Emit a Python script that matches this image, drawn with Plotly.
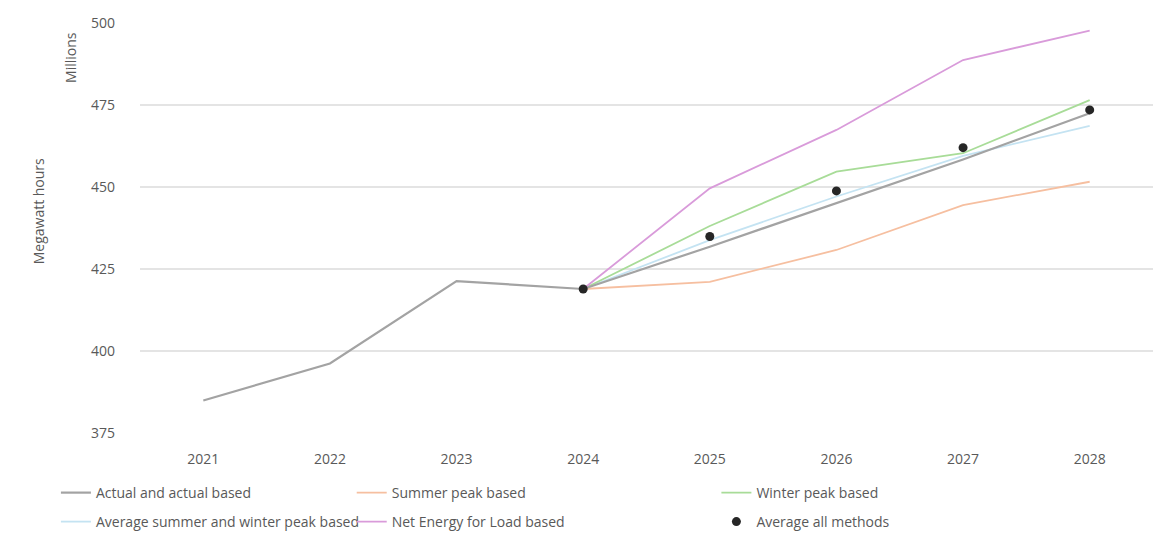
import plotly.graph_objects as go

years = ["2021", "2022", "2023", "2024", "2025", "2026", "2027", "2028"]
forecast_years = ["2024", "2025", "2026", "2027", "2028"]

actual_based = [384.9, 396.2, 421.3, 418.9, 431.8, 445.0, 458.4, 472.5]
summer_peak = [418.9, 421.1, 430.8, 444.5, 451.6]
winter_peak = [418.9, 438.1, 454.7, 460.3, 476.5]
avg_summer_winter = [418.9, 433.8, 447.1, 459.5, 468.6]
net_energy = [418.9, 449.6, 467.4, 488.7, 497.7]
avg_all = [418.9, 434.9, 448.8, 462.0, 473.5]

FONT = "Open Sans, Noto Sans, sans-serif"
TXT = "#595959"

fig = go.Figure()

fig.add_trace(go.Scatter(x=forecast_years, y=summer_peak, mode="lines",
                         name="Summer peak based",
                         line=dict(color="#F6BFA0", width=1.8), legend="legend2"))
fig.add_trace(go.Scatter(x=forecast_years, y=avg_summer_winter, mode="lines",
                         name="Average summer and winter peak based",
                         line=dict(color="#C4E3F2", width=1.8), legend="legend4"))
fig.add_trace(go.Scatter(x=forecast_years, y=winter_peak, mode="lines",
                         name="Winter peak based",
                         line=dict(color="#A8DC98", width=1.8), legend="legend3"))
fig.add_trace(go.Scatter(x=forecast_years, y=net_energy, mode="lines",
                         name="Net Energy for Load based",
                         line=dict(color="#D99BDA", width=1.8), legend="legend5"))
fig.add_trace(go.Scatter(x=years, y=actual_based, mode="lines",
                         name="Actual and actual based",
                         line=dict(color="#A3A3A3", width=2.2), legend="legend"))
fig.add_trace(go.Scatter(x=forecast_years, y=avg_all, mode="markers",
                         name="Average all methods",
                         marker=dict(color="#262626", size=9), legend="legend6"))

legend_common = dict(
    orientation="v", xanchor="left", yanchor="top",
    xref="paper", yref="container",
    font=dict(family=FONT, size=14, color=TXT),
    bgcolor="rgba(0,0,0,0)", itemwidth=30,
)
row1, row2 = 0.1117, 0.0577
col1, col2, col3 = -0.083, 0.209, 0.569

fig.update_layout(
    width=1156, height=537,
    margin=dict(l=140, r=3, t=23, b=104),
    paper_bgcolor="white", plot_bgcolor="white",
    font=dict(family=FONT, size=14, color=TXT),
    xaxis=dict(type="category", categoryorder="array", categoryarray=years,
               range=[-0.5, 7.5],
               showgrid=False, showline=False, zeroline=False,
               ticks="", tickfont=dict(size=14, color=TXT), ticklabelstandoff=16),
    yaxis=dict(range=[375, 500], tickvals=[375, 400, 425, 450, 475, 500],
               showgrid=True, gridcolor="#E4E4E4", gridwidth=1.5,
               zeroline=False, showline=False, ticks="",
               tickfont=dict(size=14, color=TXT), ticklabelstandoff=24),
    legend=dict(x=col1, y=row1, **legend_common),
    legend4=dict(x=col1, y=row2, **legend_common),
    legend2=dict(x=col2, y=row1, **legend_common),
    legend5=dict(x=col2, y=row2, **legend_common),
    legend3=dict(x=col3, y=row1, **legend_common),
    legend6=dict(x=col3, y=row2, **legend_common),
    annotations=[
        dict(text="Megawatt hours", xref="paper", yref="paper", x=-0.1,
             y=0.54, xanchor="center", yanchor="middle", textangle=-90,
             showarrow=False, font=dict(family=FONT, size=14, color=TXT)),
        dict(text="Millions", xref="paper", yref="paper", x=-0.068,
             y=0.915, xanchor="center", yanchor="middle", textangle=-90,
             showarrow=False, font=dict(family=FONT, size=14, color=TXT)),
    ],
    showlegend=True,
)

fig.write_html("out.html")
